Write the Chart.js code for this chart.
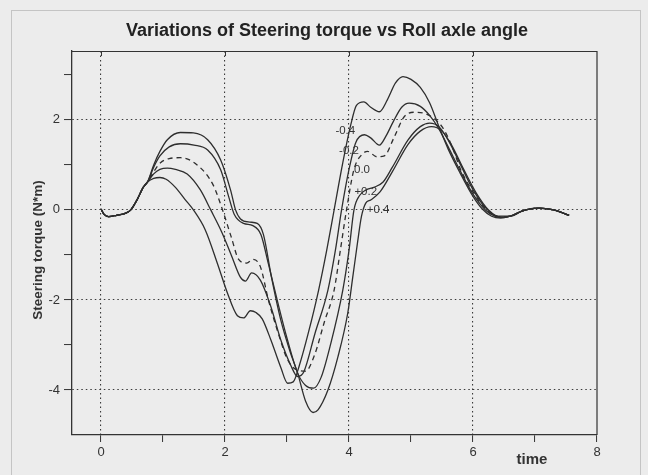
<!DOCTYPE html>
<html><head><meta charset="utf-8">
<script src="https://cdn.jsdelivr.net/npm/chart.js@4/dist/chart.umd.min.js"></script>
<style>html,body{margin:0;padding:0;background:#ececec;}canvas{display:block;}</style>
</head><body>
<canvas id="c" width="648" height="475"></canvas>
<script>
// ---- data ----
const chartTitle = 'Variations of Steering torque vs Roll axle angle';
const yAxisTitle = 'Steering torque (N*m)';
const xAxisTitle = 'time';
const seriesNames = ['-0.4', '-0.2', '0.0', '+0.2', '+0.4'];

// common start of all curves
const startT = [0, 0.05, 0.12, 0.25, 0.4, 0.48, 0.58, 0.68, 0.75];
const startY = [0.02, -0.1, -0.15, -0.12, -0.07, 0.0, 0.22, 0.5, 0.62];

const tM04 = [0.85,0.95,1.05,1.2,1.35,1.49,1.68,1.88,2.04,2.2,2.3,2.41,2.5,2.6,2.74,2.9,3.01,3.1,3.2,3.35,3.51,3.64,3.76,3.9,4.03,4.12,4.24,4.35,4.49,4.62,4.75,4.87,5.0,5.15,5.3,5.45,5.6,5.8,6.0,6.15,6.3,6.45,6.6,6.8,7.05,7.3,7.55];
const yM04 = [0.7,0.72,0.68,0.5,0.24,0,-0.44,-1.2,-1.85,-2.35,-2.4,-2.24,-2.28,-2.42,-2.89,-3.5,-3.85,-3.82,-3.45,-2.7,-1.78,-0.9,0,1.05,1.9,2.32,2.4,2.28,2.18,2.45,2.82,2.96,2.9,2.72,2.38,1.85,1.35,0.8,0.3,0.02,-0.14,-0.18,-0.14,-0.02,0.04,0.0,-0.12];

const tM02 = [0.85,0.95,1.07,1.2,1.39,1.6,1.77,1.95,2.1,2.25,2.33,2.43,2.57,2.74,2.9,3.06,3.17,3.27,3.45,3.66,3.78,3.88,4.0,4.11,4.25,4.35,4.49,4.6,4.71,4.85,4.97,5.15,5.3,5.45,5.6,5.8,6.0,6.2,6.35,6.5,6.6,6.8,7.05,7.3,7.55];
const yM02 = [0.8,0.9,0.93,0.9,0.8,0.45,0,-0.5,-1.0,-1.5,-1.58,-1.4,-1.56,-2.15,-2.89,-3.45,-3.7,-3.6,-2.75,-1.78,-0.9,0,0.9,1.5,1.67,1.6,1.44,1.65,1.95,2.28,2.37,2.3,2.1,1.8,1.4,0.85,0.35,0.0,-0.14,-0.17,-0.14,-0.02,0.04,0.0,-0.12];

const tZ00 = [0.85,0.96,1.1,1.28,1.55,1.81,1.96,2.1,2.22,2.35,2.45,2.57,2.7,2.85,3.0,3.15,3.3,3.45,3.6,3.76,3.86,3.96,4.08,4.2,4.3,4.45,4.57,4.73,4.89,5.05,5.2,5.35,5.5,5.65,5.8,6.0,6.2,6.4,6.6,6.8,7.05,7.3,7.55];
const yZ00 = [0.85,1.05,1.14,1.16,1.0,0.55,0,-0.6,-1.1,-1.18,-1.1,-1.26,-2.0,-2.7,-3.3,-3.55,-3.58,-3.2,-2.5,-1.78,-0.9,0,0.9,1.22,1.3,1.18,1.2,1.62,2.07,2.17,2.15,2.05,1.85,1.45,0.9,0.4,0.03,-0.15,-0.14,-0.02,0.04,0.0,-0.12];

const tP02 = [0.85,0.95,1.1,1.28,1.5,1.72,1.93,2.06,2.15,2.3,2.45,2.58,2.7,2.85,3.0,3.17,3.3,3.43,3.55,3.7,3.9,4.0,4.08,4.17,4.27,4.4,4.55,4.7,4.95,5.15,5.3,5.45,5.6,5.8,6.0,6.2,6.4,6.6,6.8,7.05,7.3,7.55];
const yP02 = [0.95,1.2,1.4,1.47,1.44,1.33,0.89,0.29,-0.1,-0.3,-0.35,-0.55,-1.2,-2.05,-2.85,-3.62,-3.9,-3.96,-3.72,-3.0,-1.78,-0.9,0,0.32,0.44,0.5,0.62,0.95,1.55,1.85,1.93,1.85,1.55,1.0,0.45,0.05,-0.14,-0.14,-0.02,0.04,0.0,-0.12];

const tP04 = [0.85,0.95,1.07,1.28,1.49,1.72,1.93,2.09,2.17,2.25,2.4,2.52,2.62,2.75,2.9,3.05,3.17,3.3,3.42,3.5,3.66,3.82,3.98,4.06,4.14,4.2,4.27,4.35,4.5,4.7,4.95,5.15,5.33,5.5,5.65,5.85,6.05,6.25,6.45,6.6,6.8,7.05,7.3,7.55];
const yP04 = [1.0,1.3,1.56,1.72,1.71,1.56,1.11,0.44,0,-0.2,-0.27,-0.3,-0.55,-1.5,-2.45,-3.15,-3.62,-4.25,-4.5,-4.44,-4.0,-3.27,-2.29,-1.5,-0.7,-0.15,0.15,0.22,0.4,0.85,1.45,1.75,1.85,1.75,1.45,0.9,0.38,0.0,-0.16,-0.14,-0.02,0.04,0.0,-0.12];

// in-plot curve labels (data coordinates of the text centre)
const labelX = [3.94, 4.0, 4.21, 4.27, 4.47];
const labelY = [1.76, 1.31, 0.89, 0.4, 0.0];

const xTickLabels = [0, 2, 4, 6, 8];
const yTickLabels = [-4, -2, 0, 2];

// ---- build ----
const FONT = '"Liberation Sans", Arial, sans-serif';
const INK = '#2e2e2e';
function pts(t, y) {
  const out = startT.map((v, i) => ({x: v, y: startY[i]}));
  t.forEach((v, i) => out.push({x: v, y: y[i]}));
  return out;
}
const curves = [[tM04,yM04],[tM02,yM02],[tZ00,yZ00],[tP02,yP02],[tP04,yP04]];
const datasets = curves.map((c, i) => ({
  label: seriesNames[i],
  data: pts(c[0], c[1]),
  borderColor: INK,
  borderWidth: 1.3,
  borderDash: seriesNames[i] === '0.0' ? [5, 4] : [],
  pointRadius: 0,
  fill: false,
  cubicInterpolationMode: 'monotone'
}));

const gridCol = (ctx, isX) => {
  const v = ctx.tick.value;
  const list = isX ? xTickLabels.filter(a => a < 8) : yTickLabels;
  return list.includes(v) ? '#3a3a3a' : 'rgba(0,0,0,0)';
};

const decor = {
  id: 'decor',
  beforeDraw(chart) {
    const c = chart.ctx;
    c.save();
    c.fillStyle = '#ececec';
    c.fillRect(0, 0, chart.width, chart.height);
    c.strokeStyle = '#c4c4c4';
    c.lineWidth = 1;
    c.strokeRect(11.5, 10.5, 629, 470);
    c.restore();
  },
  afterDraw(chart) {
    const c = chart.ctx, a = chart.chartArea;
    const xs = chart.scales.x, ys = chart.scales.y;
    c.save();
    // box top / right
    c.strokeStyle = '#333'; c.lineWidth = 1.2;
    c.beginPath();
    c.moveTo(a.left, a.top + 0.5); c.lineTo(a.right, a.top + 0.5); c.lineTo(a.right, a.bottom);
    c.stroke();
    // small inward ticks on top edge
    c.lineWidth = 1;
    xTickLabels.filter(v => v < 8).forEach(v => {
      const px = Math.round(xs.getPixelForValue(v)) + 0.5;
      c.beginPath(); c.moveTo(px, a.top); c.lineTo(px, a.top + 5); c.stroke();
    });
    // title
    c.fillStyle = '#222';
    c.textAlign = 'center';
    c.textBaseline = 'alphabetic';
    c.font = 'bold 18px ' + FONT;
    c.fillText(chartTitle, 327, 36);
    // x title
    c.font = 'bold 15px ' + FONT;
    c.fillStyle = '#333';
    c.fillText(xAxisTitle, 532, 464);
    // y title
    c.save();
    c.translate(38, 250);
    c.rotate(-Math.PI / 2);
    c.font = 'bold 13.5px ' + FONT;
    c.textBaseline = 'middle';
    c.fillText(yAxisTitle, 0, 0);
    c.restore();
    // curve labels
    c.font = '11.5px ' + FONT;
    c.fillStyle = '#333';
    c.textBaseline = 'middle';
    seriesNames.forEach((s, i) => {
      c.fillText(s, xs.getPixelForValue(labelX[i]), ys.getPixelForValue(labelY[i]));
    });
    c.restore();
  }
};

new Chart(document.getElementById('c'), {
  type: 'line',
  data: {datasets},
  plugins: [decor],
  options: {
    responsive: false,
    animation: false,
    devicePixelRatio: 1,
    layout: {padding: {left: 0, top: 51, right: 51, bottom: 0}},
    plugins: {legend: {display: false}, tooltip: {enabled: false}, title: {display: false}},
    scales: {
      x: {
        type: 'linear', min: -0.468, max: 8,
        afterFit: s => { s.height = 40; },
        ticks: {
          stepSize: 1, includeBounds: false, autoSkip: false, maxRotation: 0,
          color: '#333', font: {family: FONT, size: 13}, padding: 3,
          callback: v => xTickLabels.includes(v) ? String(v) : ''
        },
        grid: {
          color: ctx => gridCol(ctx, true), lineWidth: 1.1,
          tickColor: '#333', tickLength: 7, tickWidth: 1, tickBorderDash: []
        },
        border: {display: true, color: '#333', width: 1.3, dash: [1.5, 3]}
      },
      y: {
        type: 'linear', min: -5, max: 3.53,
        afterFit: s => { s.width = 72; },
        ticks: {
          stepSize: 1, includeBounds: false, autoSkip: false,
          color: '#333', font: {family: FONT, size: 13}, padding: 4,
          callback: v => yTickLabels.includes(v) ? String(v) : ''
        },
        grid: {
          color: ctx => gridCol(ctx, false), lineWidth: 1.1,
          tickColor: ctx => ctx.tick.value === -5 ? 'rgba(0,0,0,0)' : '#333',
          tickLength: 8, tickWidth: 1, tickBorderDash: []
        },
        border: {display: true, color: '#333', width: 1.3, dash: [1.5, 3]}
      }
    }
  }
});
</script>
</body></html>
